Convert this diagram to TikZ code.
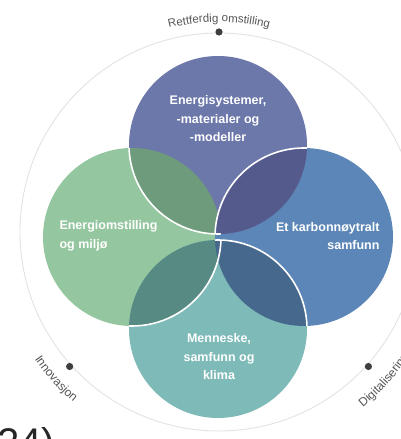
\documentclass[tikz,border=0pt]{standalone}
\usepackage{fontspec}
\setmainfont{Liberation Sans}
\usetikzlibrary{decorations.text}
\definecolor{cTop}{HTML}{6C77AA}
\definecolor{cLeft}{HTML}{94C69F}
\definecolor{cRight}{HTML}{5C86B7}
\definecolor{cBot}{HTML}{7DBAB8}
\definecolor{cTL}{HTML}{6E9B7C}
\definecolor{cTR}{HTML}{545A8C}
\definecolor{cLB}{HTML}{568A82}
\definecolor{cRB}{HTML}{46688C}
\definecolor{ring}{HTML}{E2E2E2}
\definecolor{dotc}{HTML}{3E3E3E}
\definecolor{lab}{HTML}{555555}
\tikzset{
  whitearc/.style={draw=white, line width=1.6bp},
  circlabel/.style={text=white, font=\fontsize{12.5bp}{18.5bp}\selectfont\bfseries},
  ringdot/.style={fill=dotc},
}
\begin{document}
\begin{tikzpicture}[x=1bp,y=1bp]
\useasboundingbox (0,0) rectangle (400,439);
\coordinate (C) at (219,207);
\coordinate (T) at (218,294);
\coordinate (L) at (132,202);
\coordinate (R) at (304,202);
\coordinate (B) at (218,110);
% outer ring
\draw[ring, line width=0.9bp] (C) circle[radius=199bp];
% circles
\fill[cLeft] (L) circle[radius=89bp];
\fill[cRight] (R) circle[radius=89bp];
\fill[cTop] (T) circle[radius=89bp];
\fill[cBot] (B) circle[radius=89bp];
% overlaps
\begin{scope}\clip (T) circle[radius=89bp]; \fill[cTL] (L) circle[radius=89bp]; \end{scope}
\begin{scope}\clip (T) circle[radius=89bp]; \fill[cTR] (R) circle[radius=89bp]; \end{scope}
\begin{scope}\clip (B) circle[radius=89bp]; \fill[cLB] (L) circle[radius=89bp]; \end{scope}
\begin{scope}\clip (B) circle[radius=89bp]; \fill[cRB] (R) circle[radius=89bp]; \end{scope}
% white arcs (pinwheel)
\begin{scope}\clip (L) circle[radius=89bp]; \draw[whitearc] (T) circle[radius=89bp]; \end{scope}
\begin{scope}\clip (T) circle[radius=89bp]; \draw[whitearc] (R) circle[radius=89bp]; \end{scope}
\begin{scope}\clip (R) circle[radius=89bp]; \draw[whitearc] (B) circle[radius=89bp]; \end{scope}
\begin{scope}\clip (B) circle[radius=89bp]; \draw[whitearc] (L) circle[radius=89bp]; \end{scope}
% circle labels
\node[circlabel, align=center] (tTop) at (218,320) {Energisystemer,\\-materialer og\\-modeller};
\node[circlabel, align=left, anchor=west] (tLeft) at (56,203) {Energiomstilling\\og miljø};
\node[circlabel, align=right, anchor=east] (tRight) at (383,203) {Et karbonnøytralt\\samfunn};
\node[circlabel, align=center] (tBot) at (219,82) {Menneske,\\samfunn og\\klima};
% ring dots
\fill[ringdot] (C) ++(90:200bp) coordinate (dTop) circle[radius=3.6bp];
\fill[ringdot] (C) ++(222:201bp) coordinate (dInn) circle[radius=3.6bp];
\fill[ringdot] (C) ++(318:201bp) coordinate (dDig) circle[radius=3.6bp];
% ring labels
\path[decorate, decoration={text along path, text align=center,
  text={|\fontsize{11.5bp}{12bp}\selectfont\color{lab}|Rettferdig omstilling}}]
  (C) ++(120:210bp) arc[start angle=120, end angle=60, radius=210bp];
\path[decorate, decoration={text along path, text align=center,
  text={|\fontsize{12bp}{12bp}\selectfont\color{lab}|Innovasjon}}]
  (C) ++(202:224bp) arc[start angle=202, end angle=242, radius=224bp];
\path[decorate, decoration={text along path, text align=center,
  text={|\fontsize{12bp}{12bp}\selectfont\color{lab}|Digitalisering}}]
  (C) ++(298:227bp) arc[start angle=298, end angle=338, radius=227bp];
% cropped text at bottom left
\node[anchor=base west, inner sep=0, text=black!85, font=\fontsize{40bp}{40bp}\selectfont] (yr) at (-3,-17) {24)};
\end{tikzpicture}
\end{document}
